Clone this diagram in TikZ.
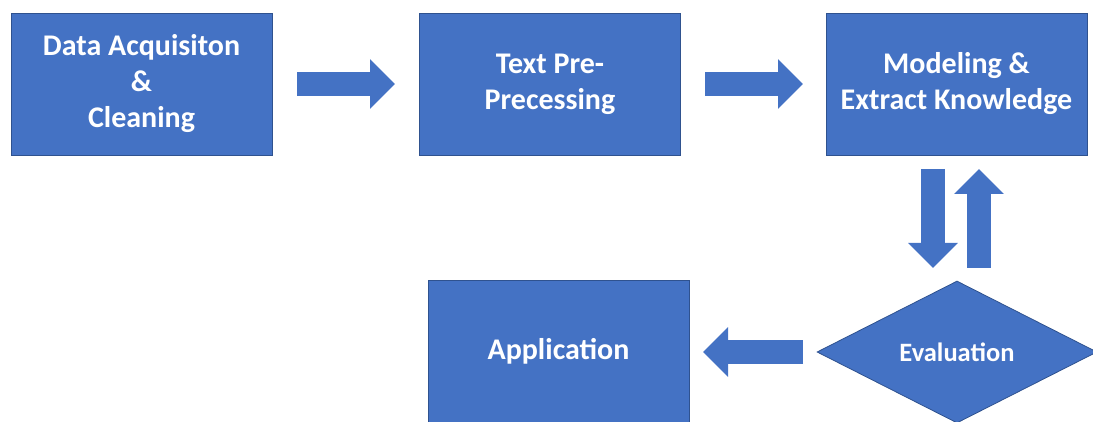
\documentclass[tikz,border=0pt]{standalone}
\usepackage{fontspec}
\setmainfont{Carlito}
\usepackage{tikz}
\usetikzlibrary{arrows.meta,shapes.geometric}

\definecolor{boxblue}{HTML}{4472C4}
\definecolor{edgeblue}{HTML}{2F528F}

\tikzset{
  stage/.style={draw=edgeblue, line width=0.8pt, fill=boxblue, text=white,
    minimum width=261pt, minimum height=142pt, inner sep=0pt,
    align=center, font=\fontsize{30}{36}\selectfont\bfseries},
  check/.style={diamond, draw=edgeblue, line width=0.8pt, fill=boxblue, text=white,
    minimum width=280pt, minimum height=142pt, aspect=2, inner sep=0pt,
    font=\fontsize{26.5}{30}\selectfont\bfseries},
  flow/.style={draw=boxblue, line width=24pt,
    -{Triangle[length=25pt,width=48pt,fill=boxblue]}}
}

\begin{document}
\begin{tikzpicture}[x=1pt,y=-1pt]
\useasboundingbox (0,0) rectangle (1093,422);

% top row
\draw (141.5,84) node (acq) [stage] {Data Acquisiton\\\&\\Cleaning};
\draw (550,84)   node (pre) [stage] {Text Pre-\\Precessing};
\draw (956.5,84) node (mod) [stage] {Modeling \&\\Extract Knowledge};

% bottom row
\draw (558.5,351) node (app)  [stage] {Application};
\draw (957,352)   node (eval) [check] {Evaluation};

% arrow ends
\coordinate (a1) at (297,84);  \coordinate (b1) at (395,84);
\coordinate (a2) at (705,84);  \coordinate (b2) at (803,84);
\coordinate (a3) at (933,169); \coordinate (b3) at (933,268);
\coordinate (a4) at (979,268); \coordinate (b4) at (979,169);
\coordinate (a5) at (803,352); \coordinate (b5) at (703,352);

\draw[flow] (a1) -- (b1);
\draw[flow] (a2) -- (b2);
\draw[flow] (a3) -- (b3);
\draw[flow] (a4) -- (b4);
\draw[flow] (a5) -- (b5);
\end{tikzpicture}
\end{document}
